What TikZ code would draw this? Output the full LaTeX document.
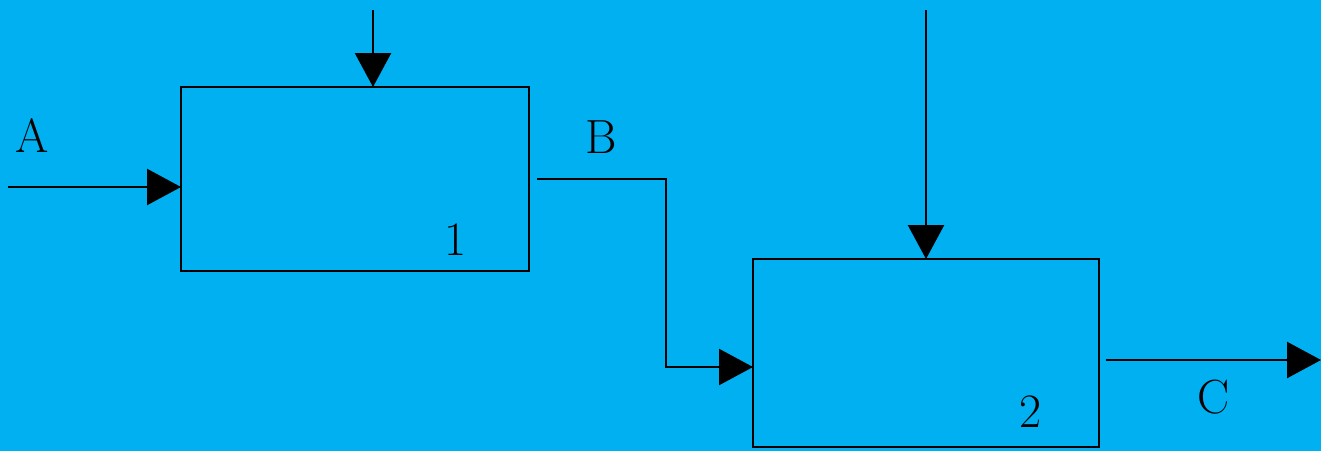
\documentclass[tikz,border=0pt]{standalone}
\usepackage{tikz}
\usetikzlibrary{arrows.meta}
\definecolor{bgblue}{RGB}{0,176,240}
\begin{document}
\begin{tikzpicture}[x=0.5pt,y=-0.5pt,
  blk/.style={draw,line width=1.2pt,inner sep=0pt,outer sep=0pt},
  flow/.style={line width=1.2pt,-{Triangle[length=17pt,width=18pt]}},
  lbl/.style={font=\fontsize{24}{28}\selectfont}]
\useasboundingbox (0,0) rectangle (1321,451);
\fill[bgblue] (0,0) rectangle (1321,451);

% blocks
\node[blk,minimum width=174pt,minimum height=92pt] (box1) at (355,179) {};
\node[blk,minimum width=173pt,minimum height=94pt] (box2) at (926,353) {};

\node[lbl] (num1) at (456,240) {1};
\node[lbl] (num2) at (1030,412) {2};

% stream labels
\node[lbl] (labA) at (32,136) {A};
\node[lbl] (labB) at (601,137) {B};
\node[lbl] (labC) at (1214,397) {C};

% free ends
\coordinate (inA) at (8,187);
\coordinate (top1) at (373,10);
\coordinate (top2) at (926,10);
\coordinate (outB) at (537,179);
\coordinate (bendB) at (666,367);
\coordinate (outC) at (1106,360);
\coordinate (endC) at (1321,360);

\draw[flow] (inA) -- (inA -| box1.west);
\draw[flow] (top1) -- (top1 |- box1.north);
\draw[flow] (top2) -- (box2.north);
\draw[flow] (outB) -| (bendB) -- (bendB -| box2.west);
\draw[flow] (outC) -- (endC);
\end{tikzpicture}
\end{document}
